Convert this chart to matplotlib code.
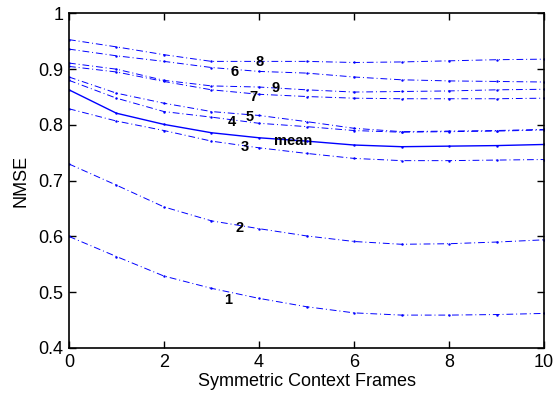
import matplotlib
matplotlib.use("Agg")
import matplotlib.pyplot as plt

plt.rcParams['font.family'] = ['Liberation Sans', 'DejaVu Sans']

frames = list(range(11))

nmse_1 = [0.600, 0.564, 0.529, 0.507, 0.489, 0.474, 0.463, 0.459, 0.459, 0.460, 0.462]
nmse_2 = [0.730, 0.692, 0.653, 0.628, 0.614, 0.601, 0.591, 0.586, 0.587, 0.590, 0.594]
nmse_3 = [0.829, 0.807, 0.790, 0.771, 0.759, 0.749, 0.740, 0.736, 0.736, 0.737, 0.738]
nmse_4 = [0.880, 0.848, 0.824, 0.814, 0.803, 0.797, 0.790, 0.787, 0.788, 0.789, 0.791]
nmse_5 = [0.886, 0.857, 0.839, 0.824, 0.817, 0.806, 0.794, 0.788, 0.789, 0.790, 0.792]
nmse_6 = [0.936, 0.924, 0.914, 0.903, 0.896, 0.893, 0.886, 0.881, 0.879, 0.878, 0.877]
nmse_7 = [0.905, 0.895, 0.878, 0.863, 0.855, 0.851, 0.848, 0.847, 0.847, 0.847, 0.848]
nmse_8 = [0.953, 0.940, 0.926, 0.914, 0.914, 0.914, 0.912, 0.913, 0.915, 0.917, 0.918]
nmse_9 = [0.911, 0.900, 0.880, 0.870, 0.868, 0.863, 0.859, 0.860, 0.861, 0.863, 0.864]
nmse_mean = [0.863, 0.821, 0.801, 0.786, 0.777, 0.771, 0.764, 0.761, 0.762, 0.763, 0.765]

speakers = ['1', '2', '3', '4', '5', '6', '7', '8', '9']
series = [nmse_1, nmse_2, nmse_3, nmse_4, nmse_5, nmse_6, nmse_7, nmse_8, nmse_9]

# label anchor points (x, y)
label_pos = {
    '1': (3.35, 0.486), '2': (3.6, 0.615), '3': (3.71, 0.760),
    '4': (3.43, 0.805), '5': (3.81, 0.814), '6': (3.49, 0.895),
    '7': (3.89, 0.850), '8': (4.02, 0.913), '9': (4.34, 0.866),
    'mean': (4.72, 0.771),
}

fig = plt.figure(figsize=(5.54, 3.95), dpi=100)
ax = fig.add_axes([0.1245, 0.119, 0.8575, 0.847])

for name, vals in zip(speakers, series):
    ax.plot(frames, vals, color='blue', linestyle='-.', linewidth=0.7,
            marker='.', markersize=1.5, dashes=(7, 3, 1, 3))
ax.plot(frames, nmse_mean, color='blue', linestyle='-', linewidth=1.0,
        marker='.', markersize=1.5)

for name, (lx, ly) in label_pos.items():
    ax.text(lx, ly, name, fontsize=10.5, fontweight='bold', ha='center', va='center')

ax.set_xlim(0, 10)
ax.set_ylim(0.4, 1.0)
ax.set_xticks([0, 2, 4, 6, 8, 10])
ax.set_yticks([0.4, 0.5, 0.6, 0.7, 0.8, 0.9, 1.0])
ax.set_yticklabels(['0.4', '0.5', '0.6', '0.7', '0.8', '0.9', '1'])
ax.tick_params(direction='in', top=True, right=True, length=5, width=1,
               labelsize=13, pad=4)
for sp in ax.spines.values():
    sp.set_linewidth(1.2)
ax.set_xlabel('Symmetric Context Frames', fontsize=13, labelpad=2)
ax.set_ylabel('NMSE', fontsize=13, labelpad=6)

fig.savefig('out.png', dpi=100)
